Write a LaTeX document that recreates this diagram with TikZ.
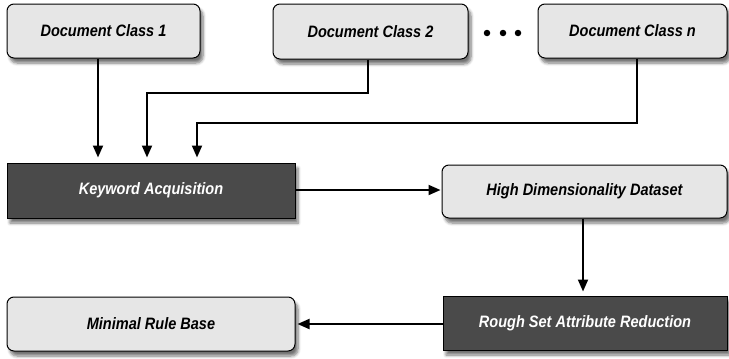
\documentclass[tikz,border=0pt]{standalone}
\usepackage{fontspec}
\setmainfont{Liberation Sans}[FakeStretch=0.88]
\usetikzlibrary{arrows.meta,shadows.blur}
\definecolor{lightbox}{HTML}{E6E6E6}
\definecolor{darkbox}{HTML}{4A4A4A}
\tikzset{
  shad/.style={blur shadow={shadow xshift=3pt, shadow yshift=-5pt, shadow blur steps=6, shadow blur radius=3pt, shadow opacity=55}},
  lbox/.style={shad, draw=black, line width=1pt, fill=lightbox, rounded corners=7pt, inner sep=0pt,
    font=\fontsize{16.5}{19}\selectfont\bfseries\itshape, text=black},
  dbox/.style={shad, draw=black, line width=1pt, fill=darkbox, inner sep=0pt,
    font=\fontsize{16.5}{19}\selectfont\bfseries\itshape, text=white},
  arr/.style={line width=1.9pt, -{Triangle[width=10pt,length=12pt]}},
  dot/.style={circle, fill=black, inner sep=0pt, minimum size=6.5pt}
}
\begin{document}
\begin{tikzpicture}[x=1pt,y=-1pt]
\useasboundingbox (0,0) rectangle (729,359);
% top row
\node[lbox, minimum width=193pt, minimum height=54pt] (b1) at (103.5,31) {Document Class 1};
\node[lbox, minimum width=195pt, minimum height=55pt] (b2) at (370.5,31.5) {Document Class 2};
\node[lbox, minimum width=189pt, minimum height=54pt] (bn) at (632.5,31) {Document Class n};
\node[dot] (d1) at (487,33) {};
\node[dot] (d2) at (503,33) {};
\node[dot] (d3) at (518,33) {};
% middle row
\node[dbox, minimum width=288pt, minimum height=55pt] (kw) at (151,190.5) {Keyword Acquisition};
\node[lbox, minimum width=285pt, minimum height=53pt] (hd) at (584.5,191.5) {High Dimensionality Dataset};
% bottom row
\node[lbox, minimum width=288pt, minimum height=54pt] (mr) at (151,324) {Minimal Rule Base};
\node[dbox, minimum width=284pt, minimum height=54pt] (rs) at (585,323) {Rough Set Attribute Reduction};
% helper coordinates
\coordinate (x1) at (98,0);
\coordinate (j2a) at (368,93);
\coordinate (j2b) at (147,93);
\coordinate (jna) at (637,123);
\coordinate (jnb) at (197,123);
\coordinate (yk) at (0,190);
\coordinate (xh) at (583,0);
\coordinate (yr) at (0,324);
% connectors
\draw[arr, shorten >=5pt] (b1.south -| x1) -- (kw.north -| x1);
\draw[arr, shorten >=5pt] (b2.south -| j2a) -- (j2a) -- (j2b) -- (kw.north -| j2b);
\draw[arr, shorten >=5pt] (bn.south -| jna) -- (jna) -- (jnb) -- (kw.north -| jnb);
\draw[arr, shorten >=1pt] (kw.east |- yk) -- (hd.west |- yk);
\draw[arr, shorten >=4pt] (hd.south -| xh) -- (rs.north -| xh);
\draw[arr, shorten >=2pt] (rs.west |- yr) -- (mr.east |- yr);
\end{tikzpicture}
\end{document}
